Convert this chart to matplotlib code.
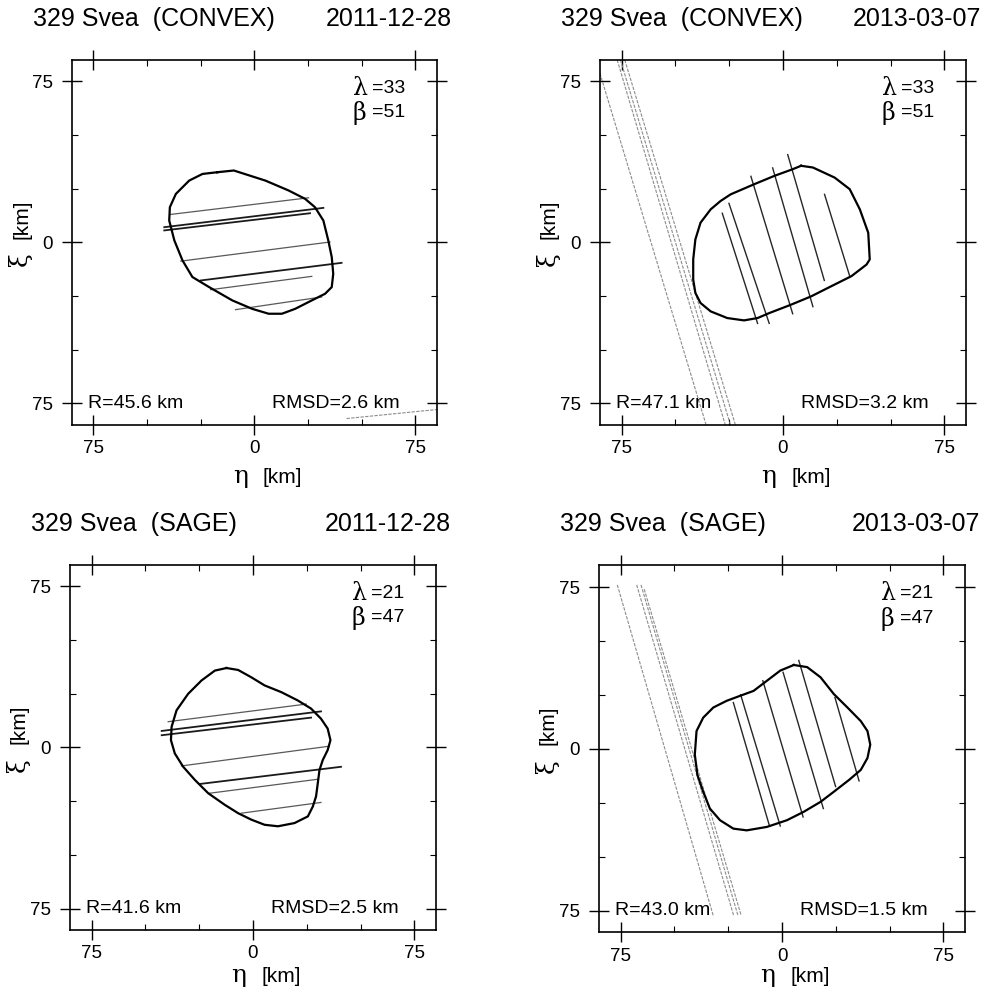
import matplotlib
matplotlib.use('Agg')
import matplotlib.pyplot as plt

plt.rcParams['font.family'] = ['Liberation Sans', 'DejaVu Sans']
greek = ['DejaVu Serif']

# Model profiles projected on the sky plane, (eta, xi) in km
convex_2011_eta = [-17.3, -9.6, 5.1, 15.9, 23.6, 28.2, 32.1, 34.4, 36.0, 36.7, 36.0, 32.9,
                   26.7, 19.0, 12.8, 6.6, -1.1, -10.3, -21.1, -28.9, -33.5, -37.3, -39.7,
                   -39.4, -36.6, -30.4, -24.2]
convex_2011_xi = [32.7, 33.5, 28.8, 24.2, 20.3, 16.4, 10.2, 0.9, -6.8, -14.6, -20.8, -23.9,
                  -27.0, -30.9, -33.2, -33.2, -30.9, -27.0, -20.8, -16.1, -8.4, 0.9, 10.2,
                  16.4, 22.6, 28.8, 31.9]

convex_2013_eta = [8.4, 13.9, 24.0, 31.0, 35.7, 39.6, 40.3, 38.8, 31.8, 22.4, 13.1, 3.7, -6.4,
                   -11.8, -18.1, -25.9, -33.6, -38.3, -40.7, -41.7, -41.7, -40.7, -38.3, -33.6,
                   -29.0, -24.3, -13.4, -4.0, 4.5]
convex_2013_xi = [35.7, 34.9, 30.2, 24.8, 15.4, 4.5, -7.9, -10.3, -15.7, -20.4, -25.1, -29.0,
                  -32.9, -35.2, -36.3, -35.2, -32.1, -28.2, -23.5, -17.3, -7.9, 1.4, 9.2, 15.4,
                  19.3, 22.4, 27.1, 31.0, 34.1]

sage_2011_eta = [-12.3, -6.9, -0.8, 5.4, 13.1, 20.8, 27.0, 31.6, 34.7, 36.0, 34.7, 32.4, 30.9,
                 30.1, 29.3, 27.8, 25.5, 19.3, 11.6, 5.4, -0.8, -6.9, -13.1, -20.8, -27.0,
                 -32.4, -36.3, -38.1, -37.8, -35.5, -30.1, -23.9, -17.7]
sage_2011_xi = [37.0, 36.1, 32.7, 28.9, 25.8, 21.9, 18.1, 13.4, 8.8, 3.4, -1.2, -5.9, -10.5,
                -16.7, -22.8, -27.5, -32.1, -35.2, -36.7, -36.0, -33.6, -30.6, -26.7, -21.3,
                -15.1, -9.0, -2.8, 3.4, 9.6, 17.3, 25.0, 31.2, 35.8]

sage_2013_eta = [5.5, 11.7, 17.9, 24.1, 30.4, 36.6, 39.7, 41.0, 39.7, 36.6, 31.2, 24.1, 17.9,
                 10.1, 2.3, -7.0, -16.4, -22.6, -28.8, -33.5, -36.6, -39.3, -40.5, -39.7,
                 -36.6, -31.9, -25.7, -19.5, -13.2, -7.0, -0.8]
sage_2013_xi = [38.9, 37.9, 33.2, 25.4, 19.2, 12.9, 8.3, 2.0, -4.2, -9.7, -14.3, -19.8, -24.5,
                -29.1, -33.0, -36.1, -37.7, -36.9, -33.0, -27.6, -19.8, -12.0, -2.6, 8.3, 14.5,
                19.2, 22.3, 24.6, 26.9, 31.6, 36.3]

# Occultation chords: (eta start, xi start, eta end, xi end)
chords_convex_2011 = [(-39.4, 13.0, 25.2, 20.8), (-42.0, 7.1, 32.1, 16.1),
                      (-42.0, 5.6, 25.9, 13.6), (-34.3, -8.7, 35.2, 0.2),
                      (-25.0, -17.7, 40.6, -9.5), (-20.4, -22.0, 26.7, -15.8),
                      (-8.8, -31.3, 31.3, -25.4)]
chords_sage_2011 = [(-39.4, 12.0, 24.7, 20.2), (-42.4, 7.7, 31.6, 16.8),
                    (-42.4, 5.7, 27.0, 13.9), (-33.2, -8.6, 35.5, 0.6),
                    (-24.7, -17.0, 40.9, -9.0), (-20.1, -21.3, 30.1, -14.8),
                    (-5.4, -30.6, 31.6, -25.6)]
chords_2011_dark = [False, True, True, False, True, False, False]

chords_convex_2013 = [(-28.2, 13.6, -11.8, -37.7), (-25.1, 18.2, -6.4, -37.7),
                      (-14.9, 30.8, 4.5, -33.2), (-4.8, 34.7, 13.9, -29.9),
                      (2.2, 40.9, 19.2, -17.7), (19.3, 22.4, 31.0, -15.7)]
chords_sage_2013 = [(-22.6, 21.5, -5.8, -35.7), (-19.2, 25.1, -0.8, -35.7),
                    (-8.9, 31.6, 9.8, -31.5), (0.5, 35.5, 19.2, -27.6),
                    (7.8, 41.0, 24.9, -17.4), (24.6, 23.8, 35.8, -14.8)]

# Negative (miss) chords
miss_convex_2011 = [(42.9, -82.0, 88.0, -77.5)]
miss_convex_2013 = [(-86.9, 85.0, -35.7, -85.0), (-77.0, 85.0, -26.8, -85.0),
                    (-75.5, 85.0, -24.4, -85.0), (-73.5, 85.0, -22.1, -85.0)]
miss_sage_2011 = []
miss_sage_2013 = [(-76.5, 76.0, -32.0, -77.0), (-67.5, 76.0, -22.5, -77.0),
                  (-65.5, 76.0, -20.5, -77.0), (-64.0, 74.0, -19.0, -77.0)]

models = ['CONVEX', 'CONVEX', 'SAGE', 'SAGE']
dates = ['2011-12-28', '2013-03-07', '2011-12-28', '2013-03-07']
pole_lambda = [33, 33, 21, 21]
pole_beta = [51, 51, 47, 47]
radius_km = [45.6, 47.1, 41.6, 43.0]
rmsd_km = [2.6, 3.2, 2.5, 1.5]

outlines = [(convex_2011_eta, convex_2011_xi), (convex_2013_eta, convex_2013_xi),
            (sage_2011_eta, sage_2011_xi), (sage_2013_eta, sage_2013_xi)]
chords = [chords_convex_2011, chords_convex_2013, chords_sage_2011, chords_sage_2013]
misses = [miss_convex_2011, miss_convex_2013, miss_sage_2011, miss_sage_2013]

# axes rectangles in figure fraction
rects = [[0.0729, 0.5716, 0.3698, 0.368],
         [0.6079, 0.5716, 0.3708, 0.368],
         [0.0709, 0.0625, 0.3708, 0.368],
         [0.6069, 0.0600, 0.3708, 0.370]]
xlabel_y = [-0.158, -0.158, -0.142, -0.136]

fig = plt.figure(figsize=(9.87, 9.92), dpi=100)

for i in range(4):
    ax = fig.add_axes(rects[i])
    lim = 85
    ax.set_xlim(-lim, lim)
    ax.set_ylim(-lim, lim)

    for c in misses[i]:
        ax.plot([c[0], c[2]], [c[1], c[3]], color='0.55', lw=0.8,
                ls=(0, (3, 1.2)))

    for k, c in enumerate(chords[i]):
        if i in (0, 2):
            dark = chords_2011_dark[k]
            ax.plot([c[0], c[2]], [c[1], c[3]], color='0.1' if dark else '0.35',
                    lw=1.3 if dark else 0.9)
        else:
            ax.plot([c[0], c[2]], [c[1], c[3]], color='0.15', lw=1.0)

    eta, xi = outlines[i]
    ax.plot(eta + eta[:1], xi + xi[:1], color='black', lw=1.6)

    ax.set_xticks([-75, 0, 75])
    ax.set_xticklabels(['75', '0', '75'])
    ax.set_yticks([-75, 0, 75])
    ax.set_yticklabels(['75', '0', '75'])
    ax.set_xticks([-50, -25, 25, 50], minor=True)
    ax.set_yticks([-50, -25, 25, 50], minor=True)
    ax.tick_params(which='major', direction='inout', length=14, width=1.0,
                   top=True, right=True, labelsize=13.5)
    ax.tick_params(which='minor', direction='in', length=4, width=0.8,
                   top=True, right=True)
    ax.tick_params(axis='x', which='major', pad=4)
    ax.tick_params(axis='y', which='major', pad=7)
    for s in ax.spines.values():
        s.set_linewidth(1.2)

    # axis labels: greek symbol plus unit
    ax.text(0.441, xlabel_y[i], '\u03b7', transform=ax.transAxes, family=greek,
            fontsize=18, ha='left', va='baseline')
    ax.text(0.523, xlabel_y[i], '[km]', transform=ax.transAxes,
            fontsize=15, ha='left', va='baseline')
    ax.text(-0.123, 0.453, '\u03be', transform=ax.transAxes, family=greek,
            fontsize=18, ha='center', va='baseline', rotation=90,
            rotation_mode='anchor')
    ax.text(-0.123, 0.564, '[km]', transform=ax.transAxes,
            fontsize=15, ha='center', va='baseline', rotation=90,
            rotation_mode='anchor')

    ax.text(-0.107, 1.112, '329 Svea  (%s)' % models[i], transform=ax.transAxes,
            ha='left', va='center', fontsize=18)
    ax.text(1.041, 1.112, dates[i], transform=ax.transAxes,
            ha='right', va='center', fontsize=18)

    ax.text(0.77, 0.923, '\u03bb', transform=ax.transAxes, family=greek,
            ha='left', va='center', fontsize=17)
    ax.text(0.822, 0.923, '=%d' % pole_lambda[i], transform=ax.transAxes,
            ha='left', va='center', fontsize=14)
    ax.text(0.77, 0.855, '\u03b2', transform=ax.transAxes, family=greek,
            ha='left', va='center', fontsize=17)
    ax.text(0.822, 0.855, '=%d' % pole_beta[i], transform=ax.transAxes,
            ha='left', va='center', fontsize=14)
    ax.text(0.044, 0.06, 'R=%.1f km' % radius_km[i], transform=ax.transAxes,
            ha='left', va='center', fontsize=14)
    ax.text(0.899, 0.06, 'RMSD=%.1f km' % rmsd_km[i], transform=ax.transAxes,
            ha='right', va='center', fontsize=14)

fig.savefig('out.png', dpi=100)
